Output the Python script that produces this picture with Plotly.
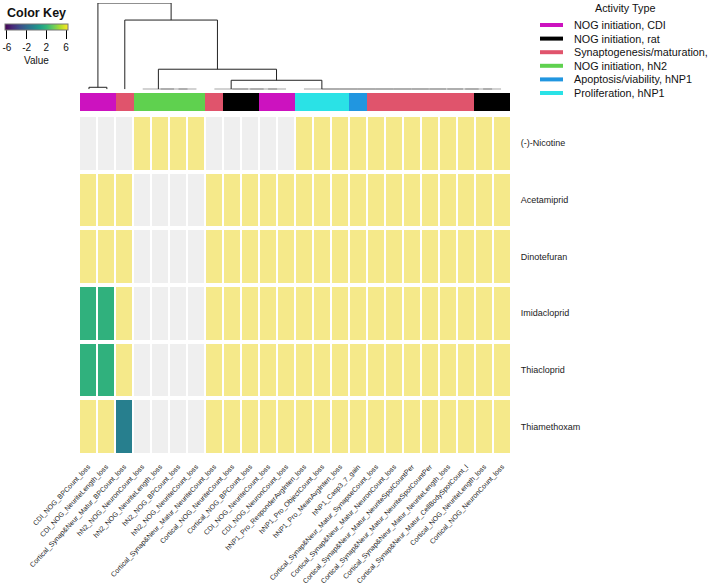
import plotly.graph_objects as go
import plotly.colors as pc

# ---------------- data ----------------
columns = [
    "CDI_NOG_BPCount_loss",
    "CDI_NOG_NeuriteLength_loss",
    "Cortical_Synap&Neur_Matur_BPCount_loss",
    "hN2_NOG_NeuronCount_loss",
    "hN2_NOG_NeuriteLength_loss",
    "hN2_NOG_BPCount_loss",
    "hN2_NOG_NeuriteCount_loss",
    "Cortical_Synap&Neur_Matur_NeuriteCount_loss",
    "Cortical_NOG_NeuriteCount_loss",
    "Cortical_NOG_BPCount_loss",
    "CDI_NOG_NeuriteCount_loss",
    "CDI_NOG_NeuronCount_loss",
    "hNP1_Pro_ResponderAvgInten_loss",
    "hNP1_Pro_ObjectCount_loss",
    "hNP1_Pro_MeanAvgInten_loss",
    "hNP1_Casp3_7_gain",
    "Cortical_Synap&Neur_Matur_SynapseCount_loss",
    "Cortical_Synap&Neur_Matur_NeuronCount_loss",
    "Cortical_Synap&Neur_Matur_NeuriteSpotCountPer",
    "Cortical_Synap&Neur_Matur_NeuriteSpotCountPer",
    "Cortical_Synap&Neur_Matur_NeuriteLength_loss",
    "Cortical_Synap&Neur_Matur_CellBodySpotCount_l",
    "Cortical_NOG_NeuriteLength_loss",
    "Cortical_NOG_NeuronCount_loss",
]

categories = [
    "NOG initiation, CDI",
    "NOG initiation, rat",
    "Synaptogenesis/maturation,",
    "NOG initiation, hN2",
    "Apoptosis/viability, hNP1",
    "Proliferation, hNP1",
]
category_colors = ["#CC12BF", "#000000", "#E0546C", "#5FD14F", "#2196E0", "#2AE2E6"]

# category index of each column
col_category = [0, 0, 2, 3, 3, 3, 3, 2, 1, 1, 0, 0, 5, 5, 5, 4, 2, 2, 2, 2, 2, 2, 1, 1]

compounds = ["(-)-Nicotine", "Acetamiprid", "Dinotefuran", "Imidacloprid", "Thiacloprid", "Thiamethoxam"]

N = None
Y = 6.4
values = [
    [N, N, N, Y, Y, Y, Y, N, N, N, N, N, Y, Y, Y, Y, Y, Y, Y, Y, Y, Y, Y, Y],
    [Y, Y, Y, N, N, N, N, Y, Y, Y, Y, Y, Y, Y, Y, Y, Y, Y, Y, Y, Y, Y, Y, Y],
    [Y, Y, Y, N, N, N, N, Y, Y, Y, Y, Y, Y, Y, Y, Y, Y, Y, Y, Y, Y, Y, Y, Y],
    [1.8, 1.8, Y, N, N, N, N, Y, Y, Y, Y, Y, Y, Y, Y, Y, Y, Y, Y, Y, Y, Y, Y, Y],
    [1.8, 1.8, Y, N, N, N, N, Y, Y, Y, Y, Y, Y, Y, Y, Y, Y, Y, Y, Y, Y, Y, Y, Y],
    [Y, Y, -0.9, N, N, N, N, Y, Y, Y, Y, Y, Y, Y, Y, Y, Y, Y, Y, Y, Y, Y, Y, Y],
]

# column dendrogram (hclust style: negative = leaf, positive = earlier merge)
merge_left = [-1, -6, -5, -4, -11, -10, -9, -8, -23, -22, -21, -20, -19, -18, -17, -16, -15, -14, -13, 8, 4, -3, 1]
merge_right = [-2, -7, 2, 3, -12, 5, 6, 7, -24, 9, 10, 11, 12, 13, 14, 15, 16, 17, 18, 19, 20, 21, 22]
merge_height = [0.1, 0, 0, 0, 0, 0, 0, 0, 0, 0, 0, 0, 0, 0, 0, 0, 0, 0, 0, 0.45, 1.0, 3.45, 4.3]

key_ticks = [-6, -2, 2, 6]
ZMIN, ZMAX = -6.4, 6.4

# ---------------- layout helpers ----------------
W, H = 709, 585
def px_x(p):
    return p / W
def px_y(p):
    return 1 - p / H

FONT = "Liberation Sans, Arial, sans-serif"
ncol = len(columns)
nrow = len(compounds)
xi = list(range(ncol))
yi = list(range(nrow))

fig = go.Figure()

# NA cells (grey)
na_mask = [[1 if v is None else None for v in row] for row in values]
fig.add_trace(go.Heatmap(
    z=na_mask, x=xi, y=yi, colorscale=[[0, "#EFEFEF"], [1, "#EFEFEF"]],
    showscale=False, xgap=2, ygap=4, hoverinfo="skip", xaxis="x", yaxis="y"))

# value cells
vir = list(pc.sequential.Viridis)
vir[-1] = "#F5E98A"
cs = [[i / (len(vir) - 1), c] for i, c in enumerate(vir)]
fig.add_trace(go.Heatmap(
    z=values, x=xi, y=yi, colorscale=cs, zmin=ZMIN, zmax=ZMAX,
    showscale=False, xgap=2, ygap=4, xaxis="x", yaxis="y"))

# colour key (dummy trace carrying the colorbar)
fig.add_trace(go.Scatter(
    x=[None], y=[None], mode="markers", xaxis="x3", yaxis="y3", showlegend=False,
    marker=dict(color=[0], colorscale="Viridis", cmin=ZMIN, cmax=ZMAX, showscale=True,
                colorbar=dict(orientation="h", x=px_x(5), xanchor="left", y=px_y(24), yanchor="top",
                              len=63 / W, lenmode="fraction", thickness=6, thicknessmode="pixels",
                              xpad=0, ypad=0, outlinewidth=1, outlinecolor="#777",
                              tickvals=key_ticks, ticktext=[str(t) for t in key_ticks],
                              ticks="outside", ticklen=9, tickcolor="#000",
                              tickfont=dict(family=FONT, size=10, color="#111"),
                              title=dict(text="Value", side="bottom",
                                         font=dict(family=FONT, size=10, color="#111"))))))

# annotation colour bar
ncat = len(categories)
cat_cs = []
for i, c in enumerate(category_colors):
    cat_cs.append([i / (ncat - 1), c])
fig.add_trace(go.Heatmap(
    z=[col_category], x=xi, y=[0], colorscale=cat_cs, zmin=0, zmax=ncat - 1,
    showscale=False, hoverinfo="skip", xaxis="x2", yaxis="y2"))

# dendrogram
mpos = []
dx, dy = [], []
def node(k):
    if k < 0:
        return float(-k - 1), 0.0
    return mpos[k - 1], merge_height[k - 1]
for a, b, h in zip(merge_left, merge_right, merge_height):
    xa, ha = node(a)
    xb, hb = node(b)
    dx += [xa, xa, xb, xb, None]
    dy += [ha, h, h, hb, None]
    mpos.append((xa + xb) / 2)
fig.add_trace(go.Scatter(x=dx, y=dy, mode="lines", line=dict(color="#222", width=1),
                         xaxis="x3", yaxis="y3", showlegend=False, hoverinfo="skip",
                         cliponaxis=False))

# ---------------- axes ----------------
hide = dict(showgrid=False, zeroline=False, showticklabels=False, showline=False, ticks="")
fig.update_layout(
    width=W, height=H,
    margin=dict(l=0, r=0, t=0, b=0, autoexpand=False),
    paper_bgcolor="white", plot_bgcolor="white",
    showlegend=False,
    xaxis=dict(domain=[px_x(79), px_x(511)], range=[-0.5, ncol - 0.5],
               tickvals=xi, ticktext=columns, tickangle=-47,
               tickfont=dict(family=FONT, size=7, color="#222"),
               ticks="outside", ticklen=4, tickcolor="rgba(0,0,0,0)",
               showgrid=False, zeroline=False, showline=False, automargin=False),
    yaxis=dict(domain=[px_y(455), px_y(115)], range=[nrow - 0.5, -0.5],
               tickvals=yi, ticktext=compounds, side="right",
               tickfont=dict(family=FONT, size=9, color="#222"),
               ticks="outside", ticklen=7, tickcolor="rgba(0,0,0,0)",
               showgrid=False, zeroline=False, showline=False, automargin=False),
    xaxis2=dict(domain=[px_x(80), px_x(510)], range=[-0.5, ncol - 0.5], anchor="y2", **hide),
    yaxis2=dict(domain=[px_y(111), px_y(93)], range=[-0.5, 0.5], anchor="x2", **hide),
    xaxis3=dict(domain=[px_x(80), px_x(510)], range=[-0.5, ncol - 0.5], anchor="y3", **hide),
    yaxis3=dict(domain=[px_y(89.3), px_y(3)], range=[0, max(merge_height)], anchor="x3", **hide),
)

# titles / legend
annotations = [
    dict(text="<b>Color Key</b>", x=px_x(36), y=px_y(13), xref="paper", yref="paper",
         showarrow=False, xanchor="center", yanchor="middle",
         font=dict(family=FONT, size=12.5, color="#111")),
    dict(text="Activity Type", x=px_x(625), y=px_y(8), xref="paper", yref="paper",
         showarrow=False, xanchor="center", yanchor="middle",
         font=dict(family=FONT, size=10.8, color="#111")),
]
shapes = []
for i, (name, col) in enumerate(zip(categories, category_colors)):
    yc = 25 + i * 13.6
    shapes.append(dict(type="line", xref="paper", yref="paper",
                       x0=px_x(540), x1=px_x(563), y0=px_y(yc), y1=px_y(yc),
                       line=dict(color=col, width=4)))
    annotations.append(dict(text=name, x=px_x(572), y=px_y(yc), xref="paper", yref="paper",
                            showarrow=False, xanchor="left", yanchor="middle",
                            font=dict(family=FONT, size=10.8, color="#111")))
fig.update_layout(annotations=annotations, shapes=shapes)

fig.write_html("out.html", config={"displayModeBar": False},
               post_script="document.body.style.margin='0px';")
